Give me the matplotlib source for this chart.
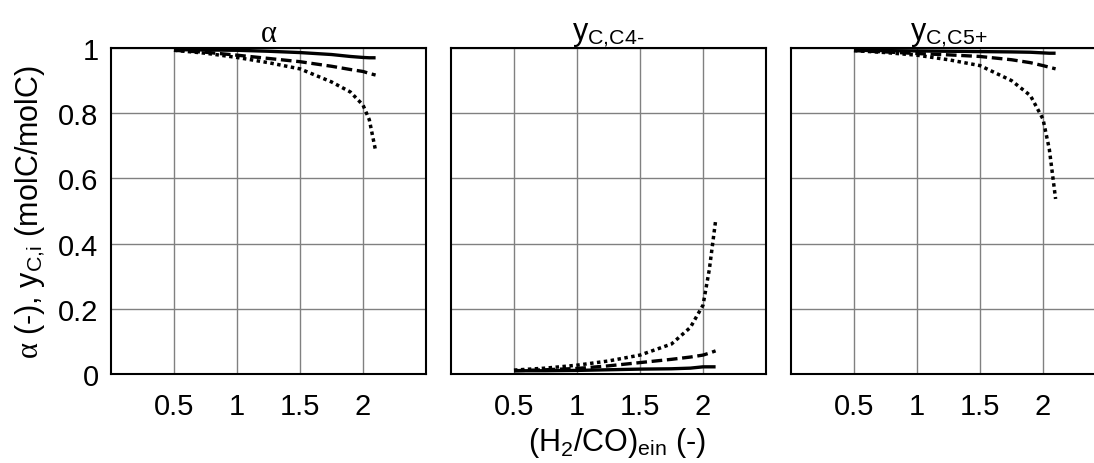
import numpy as np
import matplotlib.pyplot as plt

plt.rcParams['font.family'] = ['Liberation Sans', 'DejaVu Sans']
plt.rcParams['mathtext.fontset'] = 'custom'
plt.rcParams['mathtext.rm'] = 'Liberation Sans'
plt.rcParams['mathtext.it'] = 'Liberation Serif'
plt.rcParams['mathtext.bf'] = 'Liberation Sans:bold'

# H2/CO ratio at the inlet
h2co = [0.5, 0.75, 1.0, 1.25, 1.5, 1.75, 1.9, 2.0, 2.05, 2.1]

# chain growth probability alpha
alpha_solid  = [0.995, 0.994, 0.993, 0.990, 0.986, 0.980, 0.974, 0.971, 0.970, 0.970]
alpha_dashed = [0.993, 0.987, 0.978, 0.968, 0.958, 0.944, 0.934, 0.928, 0.922, 0.917]
alpha_dotted = [0.993, 0.984, 0.971, 0.955, 0.936, 0.896, 0.865, 0.825, 0.780, 0.685]

# carbon fraction C4-
c4_solid  = [0.010, 0.010, 0.011, 0.013, 0.015, 0.016, 0.018, 0.022, 0.022, 0.022]
c4_dashed = [0.010, 0.013, 0.017, 0.025, 0.035, 0.045, 0.052, 0.058, 0.064, 0.071]
c4_dotted = [0.012, 0.018, 0.027, 0.040, 0.058, 0.092, 0.143, 0.211, 0.320, 0.470]

# carbon fraction C5+
c5_solid  = [0.993, 0.992, 0.991, 0.990, 0.989, 0.988, 0.987, 0.985, 0.984, 0.984]
c5_dashed = [0.992, 0.988, 0.983, 0.979, 0.974, 0.964, 0.955, 0.946, 0.941, 0.936]
c5_dotted = [0.992, 0.986, 0.978, 0.964, 0.946, 0.900, 0.854, 0.782, 0.690, 0.537]

panels = [
    (r'$\alpha$', alpha_solid, alpha_dashed, alpha_dotted),
    (r'$\mathrm{y}_{\text{C,C4-}}$', c4_solid, c4_dashed, c4_dotted),
    (r'$\mathrm{y}_{\text{C,C5+}}$', c5_solid, c5_dashed, c5_dotted),
]

fig = plt.figure(figsize=(10.94, 4.64), dpi=100)
W, H = 1094, 464
lefts = [111, 451, 791]
bottom, top = 375, 49

for i, (title, ys, yd, yt) in enumerate(panels):
    ax = fig.add_axes([lefts[i] / W, 1 - bottom / H, 315 / W, (bottom - top) / H])
    ax.plot(h2co, ys, color='black', lw=2.4, ls='-', solid_capstyle='butt')
    ax.plot(h2co, yd, color='black', lw=2.4, ls=(0, (3.2, 1.4)), dash_capstyle='butt')
    ax.plot(h2co, yt, color='black', lw=2.5, ls=(0, (1, 1)), dash_capstyle='butt')

    ax.set_xlim(0, 2.5)
    ax.set_ylim(0, 1)
    ax.set_xticks([0.5, 1, 1.5, 2])
    ax.set_xticklabels(['0.5', '1', '1.5', '2'])
    ax.set_yticks([0, 0.2, 0.4, 0.6, 0.8, 1])
    ax.grid(True, color='#808080', lw=1.0)
    ax.set_axisbelow(True)
    ax.tick_params(direction='in', length=0, labelsize=21)
    ax.tick_params(axis='x', pad=13)
    ax.tick_params(axis='y', pad=9)
    for sp in ax.spines.values():
        sp.set_linewidth(1.5)
        sp.set_color('black')
    ax.set_title(title, fontsize=22, pad=5)
    if i == 0:
        ax.set_yticklabels(['0', '0.2', '0.4', '0.6', '0.8', '1'])
        ax.set_ylabel(r'$\alpha$ (-), $\mathrm{y}_{\text{C,i}}$ (molC/molC)', fontsize=22, labelpad=8)
    else:
        ax.set_yticklabels([])
    if i == 1:
        ax.set_xlabel(r'$\mathrm{(H_2/CO)}_{\text{ein}}$ (-)', fontsize=22)
        ax.xaxis.set_label_coords(0.527, -0.155)

fig.savefig('out.png', dpi=100)
